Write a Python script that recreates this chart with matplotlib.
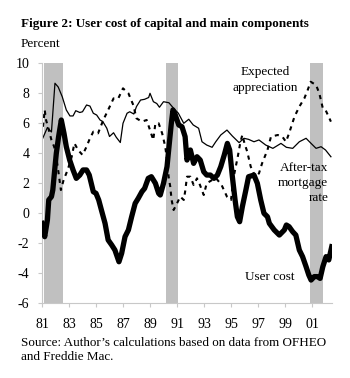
import matplotlib
matplotlib.use("Agg")
import matplotlib.pyplot as plt

plt.rcParams['font.family'] = ['Liberation Serif', 'DejaVu Serif']
plt.rcParams['axes.unicode_minus'] = False

# recession bands (fractional years)
recessions = [(81.17, 82.58), (90.16, 91.07), (100.85, 101.79)]

# after-tax mortgage rate
mort_x = [81.0, 81.4, 81.7, 81.96, 82.2, 82.5, 82.8, 83.07, 83.3, 83.5, 83.8, 84.0,
          84.3, 84.55, 84.8, 85.05, 85.3, 85.5, 85.8, 86.0, 86.3, 86.5, 86.8, 87.0,
          87.3, 87.5, 87.8, 88.0, 88.3, 88.6, 88.9, 89.0, 89.25, 89.5, 89.7, 90.0,
          90.4, 90.75, 91.1, 91.5, 91.87, 92.2, 92.6, 92.85, 93.2, 93.6, 93.87,
          94.24, 94.7, 95.1, 95.6, 95.96, 96.3, 96.7, 97.07, 97.57, 98.1, 98.7,
          99.1, 99.57, 100.06, 100.56, 100.93, 101.3, 101.67, 102.0, 102.4]
mort_y = [4.87, 5.7, 5.4, 8.65, 8.4, 7.75, 6.87, 6.47, 6.47, 6.82, 6.7, 6.75,
          7.2, 7.13, 6.65, 6.53, 6.2, 6.1, 5.65, 5.1, 5.35, 5.05, 4.7, 5.98,
          6.65, 6.75, 6.6, 7.1, 7.53, 7.58, 7.7, 7.98, 7.42, 7.3, 7.05, 7.42,
          7.35, 6.98, 6.65, 5.98, 6.25, 5.87, 5.65, 4.75, 4.53, 4.38, 4.75,
          5.2, 5.53, 5.13, 4.69, 4.98, 4.91, 4.75, 4.87, 4.53, 4.31, 4.64,
          4.38, 4.31, 4.75, 4.98, 4.64, 4.31, 4.42, 4.2, 3.75]

# expected appreciation
appr_x = [81.07, 81.2, 81.3, 81.44, 81.7, 81.9, 82.06, 82.23, 82.4, 82.6, 82.9,
          83.2, 83.4, 83.67, 84.0, 84.3, 84.5, 84.8, 85.15, 85.54, 85.9, 86.3,
          86.65, 87.0, 87.4, 87.76, 88.0, 88.4, 88.75, 89.0, 89.24, 89.4, 89.64,
          89.9, 90.13, 90.26, 90.38, 90.5, 90.6, 90.75, 91.0, 91.24, 91.5, 91.6,
          91.74, 91.99, 92.23, 92.48, 92.7, 92.98, 93.2, 93.6, 93.9, 94.3, 94.7,
          95.0, 95.2, 95.5, 95.7, 95.84, 96.0, 96.2, 96.46, 96.8, 97.07, 97.3,
          97.7, 97.96, 98.46, 98.8, 99.07, 99.3, 99.7, 100.06, 100.43, 100.68,
          100.9, 101.3, 101.54, 101.8, 102.0, 102.4]
appr_y = [5.75, 6.87, 6.2, 5.75, 4.87, 4.42, 3.75, 2.65, 1.53, 2.2, 2.87,
          3.75, 4.65, 4.2, 3.87, 4.42, 4.87, 5.42, 5.31, 6.2, 6.87, 7.64,
          7.64, 8.31, 7.98, 7.2, 6.31, 6.09, 6.2, 5.53, 4.87, 5.98, 5.98,
          5.31, 4.42, 3.53, 2.42, 1.75, 0.87, 0.2, 0.64, 1.09, 0.87, 1.42,
          2.42, 2.42, 1.87, 2.31, 1.87, 1.2, 1.98, 2.2, 2.31, 1.87, 1.09,
          0.87, 2.42, 3.75, 4.75, 5.2, 4.64, 4.09, 3.09, 2.42, 2.64, 3.31,
          4.2, 5.09, 5.2, 5.09, 4.75, 5.31, 6.42, 7.09, 7.64, 8.2,
          8.75, 8.53, 7.98, 6.98, 6.87, 6.09]

# user cost
cost_x = [81.0, 81.2, 81.4, 81.5, 81.7, 81.8, 81.94, 82.06, 82.23, 82.43, 82.63,
          82.8, 83.05, 83.3, 83.54, 83.8, 84.04, 84.3, 84.5, 84.8, 85.0, 85.2,
          85.4, 85.67, 85.9, 86.16, 86.4, 86.7, 86.9, 87.15, 87.4, 87.64, 87.9,
          88.13, 88.4, 88.6, 88.87, 89.1, 89.4, 89.64, 89.76, 90.0, 90.26, 90.43,
          90.58, 90.7, 90.87, 91.13, 91.37, 91.6, 91.74, 91.99, 92.23, 92.48,
          92.72, 92.98, 93.2, 93.47, 93.74, 93.99, 94.24, 94.5, 94.73, 94.9,
          95.1, 95.3, 95.47, 95.64, 95.84, 96.1, 96.3, 96.7, 96.95, 97.2, 97.44,
          97.7, 97.84, 98.2, 98.58, 98.95, 99.1, 99.3, 99.57, 99.8, 100.06, 100.3,
          100.56, 100.76, 100.93, 101.17, 101.4, 101.6, 101.8, 102.04, 102.24,
          102.46]
cost_y = [-0.69, -1.58, -0.47, 0.87, 1.09, 1.53, 2.87, 3.98, 5.09, 6.2, 5.31,
          4.42, 3.53, 2.87, 2.31, 2.53, 2.87, 2.87, 2.53, 1.42, 1.31, 0.87,
          0.2, -0.69, -1.8, -2.13, -2.47, -3.25, -2.69, -1.58, -1.13, -0.25, 0.64,
          0.98, 1.42, 1.64, 2.31, 2.42, 1.98, 1.31, 1.2, 1.98, 3.09, 4.64,
          5.98, 6.87, 6.53, 5.87, 5.75, 5.09, 3.53, 4.2, 3.31, 3.75,
          3.53, 2.75, 2.53, 2.53, 2.31, 2.53, 3.09, 3.87, 4.64, 4.2,
          2.42, 0.87, -0.25, -0.58, 0.42, 1.53, 2.42, 2.53, 1.98, 0.87, -0.02,
          -0.25, -0.69, -1.13, -1.47, -1.13, -0.8, -0.91, -1.25, -1.47, -2.47, -2.91,
          -3.58, -4.13, -4.47, -4.24, -4.24, -4.36, -3.58, -2.91, -3.13,
          -2.25]

ticks = [81, 83, 85, 87, 89, 91, 93, 95, 97, 99, 101]
tick_labels = ['81', '83', '85', '87', '89', '91', '93', '95', '97', '99', '01']
yticks = [-6, -4, -2, 0, 2, 4, 6, 8, 10]

W, H = 350, 378
fig = plt.figure(figsize=(3.5, 3.78), dpi=100)
ax = fig.add_axes([42 / W, 1 - 303 / H, 290 / W, 240 / H])

for a, b in recessions:
    ax.axvspan(a, b, color='#c0c0c0', lw=0, zorder=0)

ax.plot(mort_x, mort_y, color='black', lw=0.9, zorder=2)
ax.plot(appr_x, appr_y, color='black', lw=1.5, ls=(0, (2, 2.2)), zorder=2)
ax.plot(cost_x, cost_y, color='black', lw=3.8, solid_joinstyle='round', zorder=3)

ax.set_xlim(81, 102.48)
ax.set_ylim(-6, 10)
ax.set_xticks(ticks)
ax.set_xticklabels(tick_labels)
ax.set_yticks(yticks)
for s in ['top', 'right']:
    ax.spines[s].set_visible(False)
for s in ['left', 'bottom']:
    ax.spines[s].set_color('#c8c8c8')
    ax.spines[s].set_linewidth(0.8)
ax.tick_params(colors='#c8c8c8', labelcolor='black', labelsize=10, length=3, width=0.8)
ax.tick_params(axis='y', pad=6)
ax.tick_params(axis='x', pad=8)

ax.text(97.5, 8.87, 'Expected\nappreciation', ha='center', va='center',
        fontsize=9.5, linespacing=1.35)
ax.text(102.2, 2.0, 'After-tax\nmortgage\nrate', ha='right', va='center',
        fontsize=9.5, linespacing=1.35)
ax.text(97.85, -4.27, 'User cost', ha='center', va='center', fontsize=9.5)

fig.text(21 / W, 1 - 24 / H, 'Figure 2: User cost of capital and main components',
         fontsize=9.45, fontweight='bold', va='center', ha='left')
fig.text(21 / W, 1 - 44 / H, 'Percent', fontsize=9.5, va='center', ha='left')
fig.text(21 / W, 1 - 350 / H,
         'Source: Author\u2019s calculations based on data from OFHEO\nand Freddie Mac.',
         fontsize=9.45, va='center', ha='left', linespacing=1.3)

fig.savefig('out.png', dpi=100)
